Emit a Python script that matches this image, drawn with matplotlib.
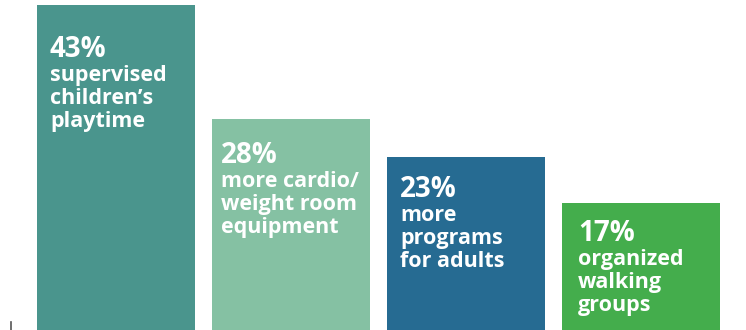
import matplotlib.pyplot as plt

# survey results: what members want more of
categories = ['supervised\nchildren\u2019s\nplaytime',
              'more cardio/\nweight room\nequipment',
              'more\nprograms\nfor adults',
              'organized\nwalking\ngroups']
percents = [43, 28, 23, 17]
colors = ['#4a958d', '#85c1a3', '#266b92', '#44ad4c']

# layout in pixels (figure drawn at 100 dpi)
W, H = 746, 330
bar_width = 158 / 175
first_baseline = [52, 44, 40, 38]   # bar top -> baseline of the percentage
text_pad = [13, 9, 13, 16]          # bar left edge -> text
label_gap = 24                      # percentage baseline -> first label line
line_pitch = 23
px = 0.72                            # points per pixel
scale = 7.6                          # pixels per percent
base = 331.8                         # pixel row of the zero line

plt.rcParams['font.family'] = ['Open Sans', 'DejaVu Sans']

fig = plt.figure(figsize=(W / 100, H / 100), dpi=100)
ax = fig.add_axes([0, 0, 1, 1])

xs = range(len(percents))
ax.bar(xs, percents, width=bar_width, color=colors, linewidth=0)

ax.set_xlim(-116 / 175, (W - 116) / 175)
ax.set_ylim((base - H) / scale, base / scale)
ax.axis('off')

for x, pct, label, b0, pad in zip(xs, percents, categories,
                                  first_baseline, text_pad):
    left = x - bar_width / 2
    ax.annotate(f'{pct}%', (left, pct), xytext=(pad * px, -b0 * px),
                textcoords='offset points', ha='left', va='baseline',
                color='white', fontsize=20, fontweight='bold')
    for j, line in enumerate(label.split('\n')):
        y = b0 + label_gap + j * line_pitch
        ax.annotate(line, (left, pct), xytext=(pad * px, -y * px),
                    textcoords='offset points', ha='left', va='baseline',
                    color='white', fontsize=15.5, fontweight='bold')

# small tick left over from the axis at the bottom left
fig.add_artist(plt.Line2D([10.5 / W, 10.5 / W], [0, 8 / H],
                          color='#555555', linewidth=1.2))

fig.savefig('out.png', dpi=100)
